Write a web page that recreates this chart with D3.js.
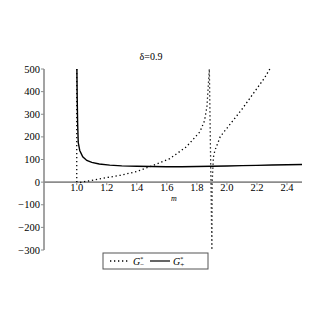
<!DOCTYPE html>
<html><head><meta charset="utf-8">
<script src="https://cdn.jsdelivr.net/npm/d3@7"></script>
<style>body{margin:0;background:#fff}</style>
</head><body>
<script>
const title = "δ=0.9";
const xTicks = [1.0, 1.2, 1.4, 1.6, 1.8, 2.0, 2.2, 2.4];
const yTicks = [-300, -200, -100, 0, 100, 200, 300, 400, 500];
// G+* (solid)
const gPlusM = [1.001,1.003,1.006,1.01,1.02,1.04,1.067,1.1,1.15,1.22,1.3,1.4,1.5,1.6,1.7,1.8,1.9,2.0,2.1,2.2,2.3,2.4,2.5];
const gPlusV = [500,380,260,175,140,112,96,87,80,75,72,70,69,68,68,69,70,71,73,74,76,77,78];
// G-* (dotted), drawn as plotted polyline incl. jumps
const gMinusM = [1.0,1.0,1.02,1.05,1.1,1.2,1.29,1.4,1.51,1.62,1.73,1.82,1.85,1.867,1.883,1.9,1.902,1.905,1.91,1.92,1.935,1.955,1.98,2.0,2.05,2.1,2.15,2.2,2.25,2.29];
const gMinusV = [500,3,-2,2,8,20,30,47,74,104,156,222,270,333,500,-300,0,40,110,140,165,200,222,238,280,322,368,414,460,505];

const FONT = "'Times New Roman', 'Liberation Serif', Times, serif";
const W = 327, H = 327;
const svg = d3.select("body").append("svg").attr("width", W).attr("height", H)
  .style("font-family", FONT);
const x = d3.scaleLinear().domain([0.782, 2.5]).range([44, 302]);
const y = d3.scaleLinear().domain([-300, 500]).range([250, 69]);

// axes
svg.append("line").attr("x1", x(0.782)).attr("x2", x(2.5)).attr("y1", y(0)).attr("y2", y(0))
  .attr("stroke", "#8c8c8c").attr("stroke-width", 1.6);
svg.append("line").attr("x1", 44).attr("x2", 44).attr("y1", y(500)).attr("y2", y(-300))
  .attr("stroke", "#8c8c8c").attr("stroke-width", 1.6);

xTicks.forEach(t => {
  svg.append("line").attr("x1", x(t)).attr("x2", x(t)).attr("y1", y(0)).attr("y2", y(0) + 3)
    .attr("stroke", "#8c8c8c").attr("stroke-width", 1);
  svg.append("text").attr("x", x(t)).attr("y", y(0) + 9).attr("text-anchor", "middle")
    .style("font-family", FONT).attr("font-size", 10.5).attr("fill", "#000").text(t.toFixed(1));
});
yTicks.forEach(t => {
  svg.append("line").attr("x1", 41).attr("x2", 44).attr("y1", y(t)).attr("y2", y(t))
    .attr("stroke", "#8c8c8c").attr("stroke-width", 1);
  svg.append("text").attr("x", 40).attr("y", y(t) + 3.5).attr("text-anchor", "end")
    .style("font-family", FONT).attr("font-size", 10.5).attr("fill", "#000")
    .text(t < 0 ? "\u2212" + Math.abs(t) : String(t));
});

svg.append("text").attr("x", 174).attr("y", 201).attr("text-anchor", "middle")
  .style("font-family", FONT).attr("font-style", "italic").attr("font-size", 8).text("m");
svg.append("text").attr("x", 151).attr("y", 60).attr("text-anchor", "middle")
  .style("font-family", FONT).attr("font-size", 10).text(title);

const line = d3.line().x(d => x(d[0])).y(d => y(d[1]));
const gPlus = gPlusM.map((m, i) => [m, gPlusV[i]]);
const gMinus = gMinusM.map((m, i) => [m, gMinusV[i]]);

svg.append("path").attr("d", line(gMinus)).attr("fill", "none").attr("stroke", "#000")
  .attr("stroke-width", 1.3).attr("stroke-dasharray", "1.3,2.7");
svg.append("path").attr("d", line(gPlus)).attr("fill", "none").attr("stroke", "#000")
  .attr("stroke-width", 1.4);

// legend
svg.append("rect").attr("x", 103).attr("y", 253).attr("width", 105).attr("height", 16)
  .attr("fill", "none").attr("stroke", "#555").attr("stroke-width", 1);
svg.append("line").attr("x1", 110).attr("x2", 130).attr("y1", 261).attr("y2", 261)
  .attr("stroke", "#000").attr("stroke-width", 1.3).attr("stroke-dasharray", "1.3,2.7");
svg.append("line").attr("x1", 150).attr("x2", 170).attr("y1", 261).attr("y2", 261)
  .attr("stroke", "#000").attr("stroke-width", 1.2);
function gLabel(xp, sub) {
  const t = svg.append("text").attr("x", xp).attr("y", 265).style("font-family", FONT).attr("font-size", 10);
  t.append("tspan").attr("font-style", "italic").text("G");
  t.append("tspan").attr("font-size", 6).attr("dy", -4).text("*");
  t.append("tspan").attr("font-size", 7).attr("dx", -3).attr("dy", 6).text(sub);
}
gLabel(133, "\u2212");
gLabel(173, "+");
</script>
</body></html>
